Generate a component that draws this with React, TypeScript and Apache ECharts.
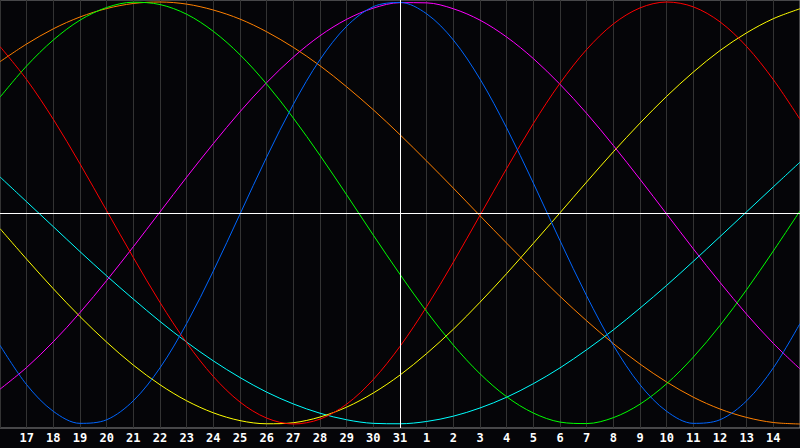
import React, { useEffect, useRef } from 'react';
import * as echarts from 'echarts';

// day labels across the chart, 16 .. 31 then 1 .. 15
const days = [
  '16', '17', '18', '19', '20', '21', '22', '23', '24', '25', '26', '27', '28', '29', '30', '31',
  '1', '2', '3', '4', '5', '6', '7', '8', '9', '10', '11', '12', '13', '14', '15',
];

// one value per day (-1 .. 1)
const blue = [
  -0.627, -0.814, -0.94, -0.997, -0.98, -0.89, -0.734, -0.524, -0.275, -0.005, 0.265, 0.515, 0.727, 0.885, 0.978, 0.998,
  0.944, 0.82, 0.635, 0.403, 0.142, -0.131, -0.393, -0.627, -0.814, -0.94, -0.997, -0.98, -0.89, -0.734, -0.524,
];
const red = [
  0.789, 0.632, 0.444, 0.233, 0.011, -0.211, -0.424, -0.615, -0.775, -0.896, -0.972, -1.0, -0.977, -0.906, -0.789, -0.632,
  -0.444, -0.233, -0.011, 0.211, 0.424, 0.615, 0.775, 0.896, 0.972, 1.0, 0.977, 0.906, 0.789, 0.632, 0.444,
];
const green = [
  0.549, 0.697, 0.82, 0.914, 0.974, 0.999, 0.988, 0.942, 0.861, 0.75, 0.611, 0.45, 0.273, 0.086, -0.105, -0.291,
  -0.467, -0.626, -0.762, -0.871, -0.948, -0.991, -0.998, -0.97, -0.906, -0.809, -0.683, -0.533, -0.363, -0.18, 0.01,
];
const orange = [
  0.717, 0.801, 0.873, 0.929, 0.969, 0.993, 1.0, 0.99, 0.962, 0.919, 0.859, 0.785, 0.698, 0.598, 0.489, 0.371,
  0.246, 0.118, -0.013, -0.143, -0.271, -0.395, -0.511, -0.619, -0.716, -0.801, -0.873, -0.929, -0.969, -0.993, -1.0,
];
const magenta = [
  -0.835, -0.732, -0.61, -0.472, -0.32, -0.16, 0.005, 0.17, 0.329, 0.48, 0.618, 0.739, 0.84, 0.918, 0.971, 0.997,
  0.996, 0.968, 0.914, 0.834, 0.732, 0.61, 0.472, 0.32, 0.16, -0.005, -0.17, -0.329, -0.48, -0.618, -0.739,
];
const cyan = [
  0.171, 0.053, -0.065, -0.183, -0.298, -0.408, -0.514, -0.612, -0.701, -0.78, -0.849, -0.905, -0.949, -0.98, -0.997, -0.999,
  -0.988, -0.963, -0.924, -0.873, -0.809, -0.734, -0.648, -0.554, -0.451, -0.343, -0.229, -0.112, 0.006, 0.124, 0.241,
];
const yellow = [
  -0.074, -0.219, -0.359, -0.491, -0.612, -0.721, -0.814, -0.89, -0.947, -0.984, -0.999, -0.994, -0.967, -0.92, -0.853, -0.768,
  -0.666, -0.551, -0.423, -0.287, -0.144, 0.001, 0.147, 0.29, 0.426, 0.553, 0.668, 0.77, 0.854, 0.921, 0.968,
];

const lines = [
  { data: orange, color: '#ff8000' },
  { data: cyan, color: '#00ffff' },
  { data: yellow, color: '#ffff00' },
  { data: magenta, color: '#ff00ff' },
  { data: green, color: '#00ff00' },
  { data: red, color: '#ff0000' },
  { data: blue, color: '#0066ff' },
];

const App: React.FC = () => {
  const chartRef = useRef<HTMLDivElement>(null);

  useEffect(() => {
    if (!chartRef.current) return;
    const chart = echarts.init(chartRef.current, undefined, { renderer: 'svg' });

    const series: any[] = lines.map((l, i) => ({
      type: 'line',
      data: l.data,
      smooth: 0.33, // about catmull-rom for evenly spaced days
      showSymbol: false,
      lineStyle: { color: l.color, width: 1 },
      itemStyle: { color: l.color },
      z: 3,
      ...(i === 0
        ? {
            markLine: {
              silent: true,
              symbol: 'none',
              label: { show: false },
              lineStyle: { color: '#ffffff', type: 'solid', width: 1 },
              data: [{ yAxis: 0 }, { xAxis: '31' }],
            },
          }
        : {}),
    }));

    chart.setOption({
      animation: false,
      backgroundColor: '#050508',
      grid: {
        left: 0,
        right: 0,
        top: 0,
        bottom: 20,
        show: true,
        borderColor: '#8a8a8a',
        borderWidth: 1,
      },
      xAxis: {
        type: 'category',
        data: days,
        boundaryGap: false,
        axisLine: { show: false },
        axisTick: { show: false },
        axisLabel: {
          interval: (i: number) => i > 0 && i < days.length - 1,
          color: '#ffffff',
          fontFamily: 'DejaVu Sans Mono',
          fontWeight: 'bold',
          fontSize: 12,
          margin: 4,
        },
        splitLine: { show: true, interval: 0, lineStyle: { color: '#333333', width: 1 } },
      },
      yAxis: {
        type: 'value',
        min: -1.019,
        max: 1.0095,
        show: false,
        splitLine: { show: false },
      },
      series,
    });

    return () => chart.dispose();
  }, []);

  return (
    <div
      ref={chartRef}
      style={{ position: 'fixed', left: 0, top: 0, width: 800, height: 448 }}
    />
  );
};

export default App;
